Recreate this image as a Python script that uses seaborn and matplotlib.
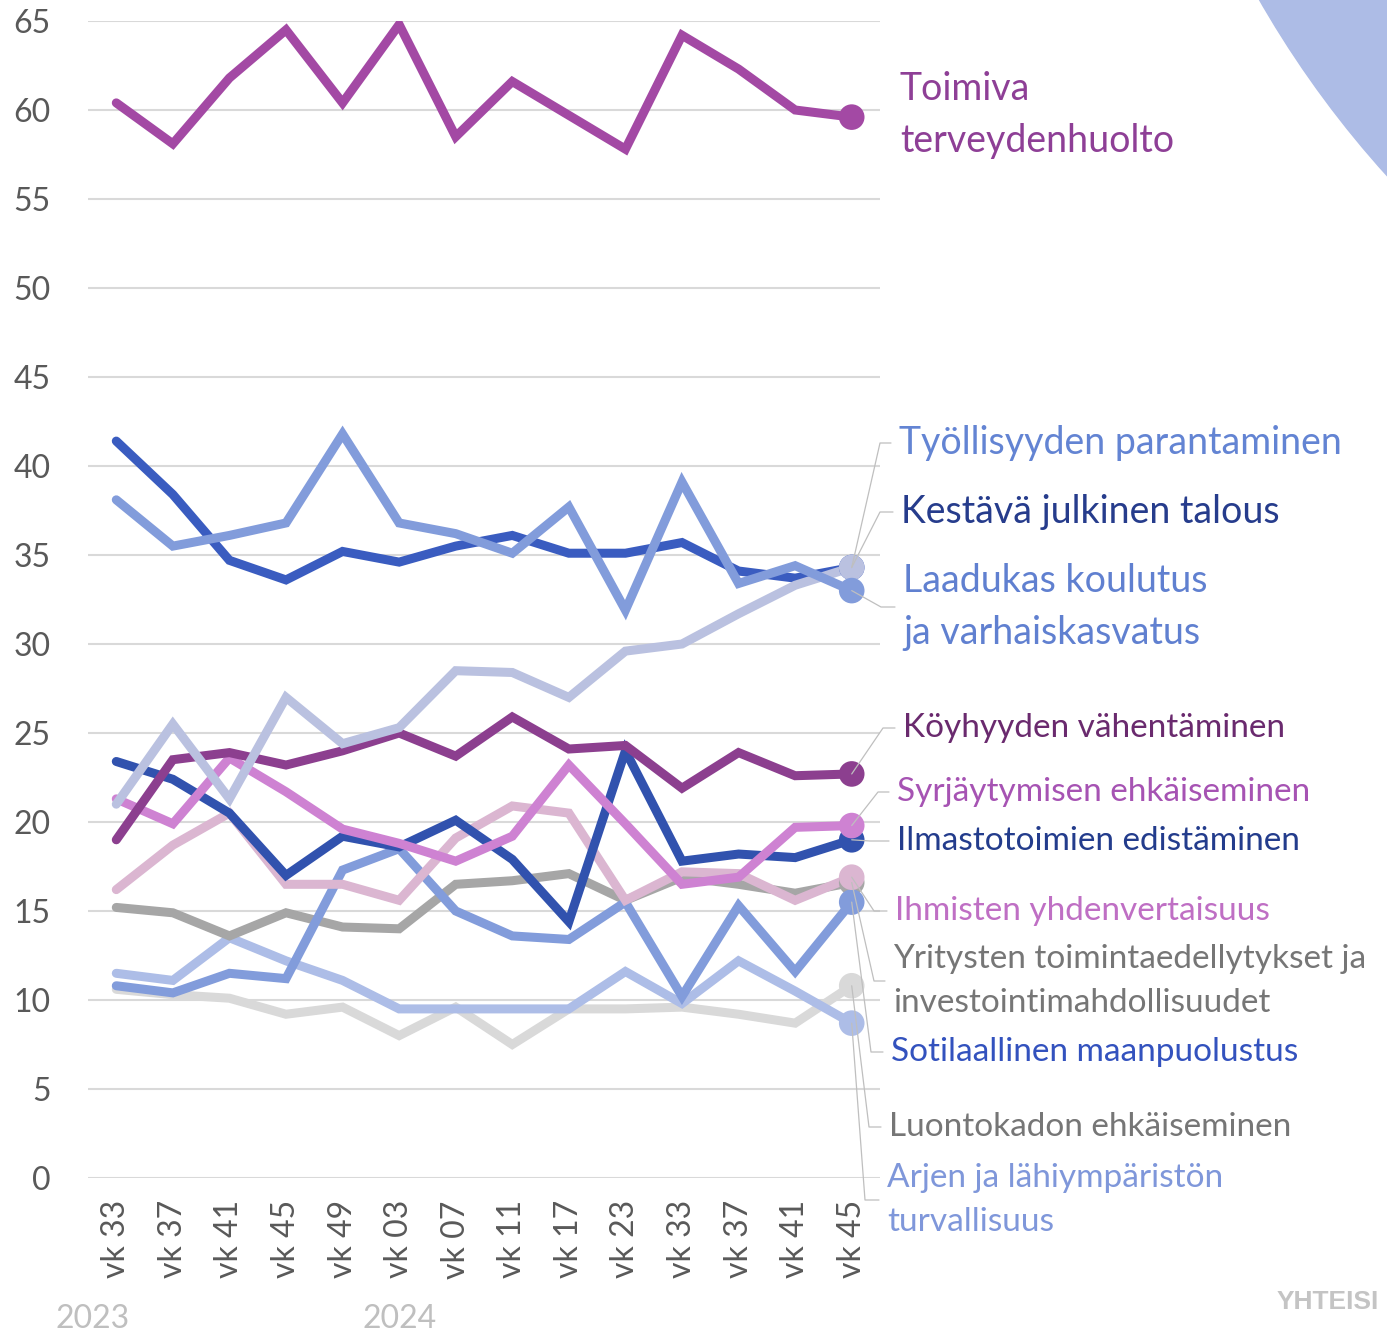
import numpy as np
import matplotlib.pyplot as plt
from matplotlib.patches import Ellipse
from matplotlib.lines import Line2D
import pandas as pd
import seaborn as sns

# data
weeks = ["vk 33", "vk 37", "vk 41", "vk 45", "vk 49", "vk 03", "vk 07",
         "vk 11", "vk 17", "vk 23", "vk 33", "vk 37", "vk 41", "vk 45"]
years = ["2023", "2024"]

terveydenhuolto = [60.4, 58.1, 61.8, 64.5, 60.4, 64.8, 58.5, 61.6, 59.7, 57.8, 64.2, 62.3, 60.0, 59.6]
julkinen_talous = [41.4, 38.4, 34.7, 33.6, 35.2, 34.6, 35.5, 36.1, 35.1, 35.1, 35.7, 34.1, 33.7, 34.3]
koulutus = [38.1, 35.5, 36.1, 36.8, 41.8, 36.8, 36.2, 35.1, 37.7, 31.9, 39.1, 33.4, 34.4, 33.0]
tyollisyys = [21.0, 25.5, 21.3, 27.0, 24.4, 25.3, 28.5, 28.4, 27.0, 29.6, 30.0, 31.7, 33.3, 34.3]
koyhyys = [19.0, 23.5, 23.9, 23.2, 24.0, 25.0, 23.7, 25.9, 24.1, 24.3, 21.9, 23.9, 22.6, 22.7]
syrjaytyminen = [21.3, 19.9, 23.6, 21.7, 19.6, 18.8, 17.8, 19.2, 23.2, 19.9, 16.5, 16.9, 19.7, 19.8]
ilmasto = [23.4, 22.4, 20.5, 17.0, 19.2, 18.6, 20.1, 17.9, 14.4, 24.0, 17.8, 18.2, 18.0, 19.0]
yhdenvertaisuus = [16.2, 18.7, 20.5, 16.5, 16.5, 15.6, 19.1, 20.9, 20.5, 15.6, 17.2, 17.1, 15.6, 16.9]
yritykset = [15.2, 14.9, 13.6, 14.9, 14.1, 14.0, 16.5, 16.7, 17.1, 15.6, 16.9, 16.5, 16.0, 16.6]
maanpuolustus = [10.8, 10.4, 11.5, 11.2, 17.3, 18.5, 15.0, 13.6, 13.4, 15.5, 10.2, 15.3, 11.6, 15.5]
luontokato = [10.6, 10.3, 10.1, 9.2, 9.6, 8.0, 9.6, 7.5, 9.5, 9.5, 9.6, 9.2, 8.7, 10.8]
turvallisuus = [11.5, 11.1, 13.5, 12.2, 11.1, 9.5, 9.5, 9.5, 9.5, 11.6, 9.8, 12.2, 10.5, 8.7]

# drawing order bottom -> top: (values, line colour)
series = [
    (luontokato, "#D9D9D9"),
    (turvallisuus, "#ADBDE7"),
    (yritykset, "#A6A6A6"),
    (maanpuolustus, "#829CDB"),
    (yhdenvertaisuus, "#DBB6D1"),
    (ilmasto, "#3152AE"),
    (syrjaytyminen, "#CE82D2"),
    (koyhyys, "#8C3F8F"),
    (julkinen_talous, "#3A5CC0"),
    (tyollisyys, "#BAC1E0"),
    (koulutus, "#829CDB"),
    (terveydenhuolto, "#A349A4"),
]

# end labels: text, colour, size, series, text x, text centre y, leader corner x (pixels)
labels = [
    ("Toimiva\nterveydenhuolto", "#8E3F96", 27, None, 900, 115, None),
    ("Työllisyyden parantaminen", "#6384D3", 27, tyollisyys, 899, 443, 880),
    ("Kestävä julkinen talous", "#263C8C", 27, julkinen_talous, 901, 512, 880),
    ("Laadukas koulutus\nja varhaiskasvatus", "#6080D0", 27, koulutus, 903, 607, 881),
    ("Köyhyyden vähentäminen", "#6A2A6E", 24, koyhyys, 903, 728, 883),
    ("Syrjäytymisen ehkäiseminen", "#A653B3", 24, syrjaytyminen, 897, 792, 878),
    ("Ilmastotoimien edistäminen", "#233C8C", 24, ilmasto, 897, 841, 870),
    ("Ihmisten yhdenvertaisuus", "#BF6FC4", 24, yhdenvertaisuus, 895, 911, 874),
    ("Yritysten toimintaedellytykset ja\ninvestointimahdollisuudet", "#767676", 24, yritykset, 893, 981, 874),
    ("Sotilaallinen maanpuolustus", "#3352BE", 24, maanpuolustus, 891, 1052, 871),
    ("Luontokadon ehkäiseminen", "#767676", 24, luontokato, 889, 1127, 869),
    ("Arjen ja lähiympäristön\nturvallisuus", "#7F97DA", 24, turvallisuus, 887, 1200, 865),
]

sns.set_style("white")
plt.rcParams["font.family"] = ["Lato", "DejaVu Sans"]

W, H = 1387, 1332
fig = plt.figure(figsize=(W / 100, H / 100), dpi=100)
ax = fig.add_axes([88 / W, 1 - 1178 / H, (880 - 88) / W, (1178 - 21) / H])

x = np.arange(len(weeks))
for vals, col in series:
    sns.lineplot(x=x, y=vals, color=col, lw=6.5, ax=ax,
                 solid_joinstyle="miter", solid_capstyle="round")
    sns.scatterplot(x=x[-1:], y=vals[-1:], color=col, s=340, ax=ax,
                    edgecolor="none", zorder=3)

ax.set_xlim(-0.5, len(weeks) - 0.5)
ax.set_ylim(0, 65)
ax.set_yticks(range(0, 66, 5))
ax.set_xticks(x)
ax.set_xticklabels(weeks, rotation=90)
ax.yaxis.grid(True, color="#D9D9D9", lw=1.5)
ax.set_axisbelow(True)
for s in ax.spines.values():
    s.set_visible(False)
ax.tick_params(axis="y", length=0, pad=27, labelsize=23, labelcolor="#595959")
ax.tick_params(axis="x", length=0, pad=16, labelsize=23, labelcolor="#595959")
ax.set_xlabel("")
ax.set_ylabel("")

# year labels below the week ticks
ax.text(-0.42, -0.122, years[0], transform=ax.get_xaxis_transform(),
        ha="center", va="center", fontsize=23, color="#BFBFBF")
ax.text(5.0, -0.122, years[1], transform=ax.get_xaxis_transform(),
        ha="center", va="center", fontsize=23, color="#BFBFBF")

# labels and leader lines
to_fig = fig.transFigure.inverted()
for text, col, size, vals, tx, ty, cx in labels:
    fig.text(tx / W, 1 - ty / H, text, color=col, fontsize=size,
             ha="left", va="center", linespacing=1.58)
    if vals is None:
        continue
    mx, my = to_fig.transform(ax.transData.transform((len(weeks) - 1, vals[-1])))
    fig.add_artist(Line2D([mx, cx / W, (tx - 8) / W],
                          [my, 1 - ty / H, 1 - ty / H],
                          transform=fig.transFigure, color="#BFBFBF", lw=0.9,
                          zorder=5))

# decorative corner shape and logo text
fig.add_artist(Ellipse((2136 / W, 1 + 502 / H), 2 * 1010 / W, 2 * 1010 / H,
                       transform=fig.transFigure, color="#ADBCE6", zorder=0))
fig.text(1277 / W, 1 - 1302 / H, "YHTEISI", color="#C4C4C4", fontsize=19,
         fontweight="bold", family="Liberation Sans", ha="left", va="center")

fig.savefig("out.png", dpi=100)
